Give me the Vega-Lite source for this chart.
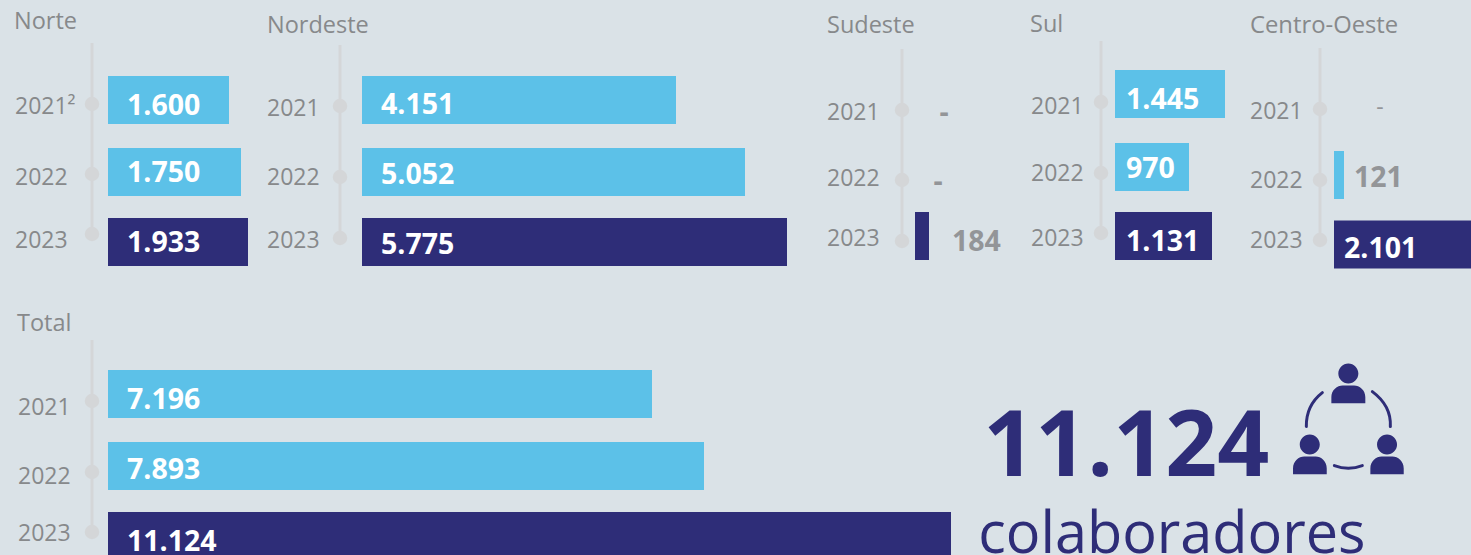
{"$schema":"https://vega.github.io/schema/vega-lite/v6.json","padding":0,"background":"#dae2e7","spacing":0,"config":{"view":{"stroke":null},"concat":{"spacing":0},"text":{"font":"Open Sans"}},
"datasets":{"rows":[
{"region":"Norte","year":2021,"value":1600,"label":"1.600","yearLabel":"2021²"},{"region":"Norte","year":2022,"value":1750,"label":"1.750","yearLabel":"2022"},{"region":"Norte","year":2023,"value":1933,"label":"1.933","yearLabel":"2023"},
{"region":"Nordeste","year":2021,"value":4151,"label":"4.151","yearLabel":"2021"},{"region":"Nordeste","year":2022,"value":5052,"label":"5.052","yearLabel":"2022"},{"region":"Nordeste","year":2023,"value":5775,"label":"5.775","yearLabel":"2023"},
{"region":"Sudeste","year":2021,"value":null,"label":"-","yearLabel":"2021"},{"region":"Sudeste","year":2022,"value":null,"label":"-","yearLabel":"2022"},{"region":"Sudeste","year":2023,"value":184,"label":"184","yearLabel":"2023"},
{"region":"Sul","year":2021,"value":1445,"label":"1.445","yearLabel":"2021"},{"region":"Sul","year":2022,"value":970,"label":"970","yearLabel":"2022"},{"region":"Sul","year":2023,"value":1131,"label":"1.131","yearLabel":"2023"},
{"region":"Centro-Oeste","year":2021,"value":null,"label":"-","yearLabel":"2021"},{"region":"Centro-Oeste","year":2022,"value":121,"label":"121","yearLabel":"2022"},{"region":"Centro-Oeste","year":2023,"value":2101,"label":"2.101","yearLabel":"2023"},
{"region":"Total","year":2021,"value":7196,"label":"7.196","yearLabel":"2021"},{"region":"Total","year":2022,"value":7893,"label":"7.893","yearLabel":"2022"},{"region":"Total","year":2023,"value":11124,"label":"11.124","yearLabel":"2023"}
],"callout":[{"total":"11.124","unit":"colaboradores"}]},
"vconcat":[{"hconcat":[
{"width":258,"height":290,"data":{"name":"rows"},"transform":[{"filter":"datum.region=='Norte'"}],"resolve":{"scale":{"x":"independent","y":"independent"}},"layer":[
{"transform":[{"filter":"datum.year==2021"}],"mark":{"type":"rule","color":"#d4d6d8","strokeWidth":3},"encoding":{"x":{"datum":-1,"axis":null,"scale":{"domain":[-2,-1,0,1600,1750,1933],"range":[15,92,108,229,241,248],"zero":false,"nice":false}},"y":{"datum":2020,"axis":null,"scale":{"domain":[2020,2021,2022,2023],"range":[43,104,174,234],"zero":false,"nice":false}},"y2":{"datum":2023}}},
{"mark":{"type":"point","filled":true,"size":210,"color":"#d4d6d8","opacity":1},"encoding":{"x":{"datum":-1,"axis":null,"scale":{"domain":[-2,-1,0,1600,1750,1933],"range":[15,92,108,229,241,248],"zero":false,"nice":false}},"y":{"field":"year","type":"quantitative","axis":null,"scale":{"domain":[2020,2021,2022,2023],"range":[43,104,174,234],"zero":false,"nice":false}}}},
{"mark":{"type":"text","align":"left","baseline":"middle","fontSize":23,"color":"#87898b","dy":2},"encoding":{"x":{"datum":-2,"axis":null,"scale":{"domain":[-2,-1,0,1600,1750,1933],"range":[15,92,108,229,241,248],"zero":false,"nice":false}},"y":{"field":"year","type":"quantitative","axis":null,"scale":{"domain":[2020,2021,2022,2023],"range":[21,105,176,239],"zero":false,"nice":false}},"text":{"field":"yearLabel"}}},
{"transform":[{"filter":"datum.year==2021"}],"mark":{"type":"text","align":"left","baseline":"middle","fontSize":23.5,"color":"#87898b","dx":-1,"dy":1},"encoding":{"x":{"datum":-2,"axis":null,"scale":{"domain":[-2,-1,0,1600,1750,1933],"range":[15,92,108,229,241,248],"zero":false,"nice":false}},"y":{"datum":2020,"axis":null,"scale":{"domain":[2020,2021,2022,2023],"range":[21,105,176,239],"zero":false,"nice":false}},"text":{"field":"region"}}},
{"mark":{"type":"bar","orient":"horizontal","size":48},"encoding":{"x":{"field":"value","type":"quantitative","stack":null,"axis":null,"scale":{"domain":[-2,-1,0,1600,1750,1933],"range":[15,92,108,229,241,248],"zero":false,"nice":false}},"x2":{"datum":0},"y":{"field":"year","type":"quantitative","axis":null,"scale":{"domain":[2021,2022,2023],"range":[100,172,242],"zero":false,"nice":false,"padding":0}},"color":{"condition":{"test":"datum.year==2023","value":"#2e2d78"},"value":"#5cc1e8"}}},
{"mark":{"type":"text","align":"left","baseline":"middle","fontSize":28.5,"fontWeight":"bold","color":"#ffffff","dx":19,"dy":1},"encoding":{"x":{"datum":0,"axis":null,"scale":{"domain":[-2,-1,0,1600,1750,1933],"range":[15,92,108,229,241,248],"zero":false,"nice":false}},"y":{"field":"year","type":"quantitative","axis":null,"scale":{"domain":[2021,2022,2023],"range":[105,172,242],"zero":false,"nice":false}},"text":{"field":"label"}}}
]},
{"width":557,"height":290,"data":{"name":"rows"},"transform":[{"filter":"datum.region=='Nordeste'"}],"resolve":{"scale":{"x":"independent","y":"independent"}},"layer":[
{"transform":[{"filter":"datum.year==2021"}],"mark":{"type":"rule","color":"#d4d6d8","strokeWidth":3},"encoding":{"x":{"datum":-1,"axis":null,"scale":{"domain":[-2,-1,0,4151,5052,5775],"range":[9,82,104,418,487,529],"zero":false,"nice":false}},"y":{"datum":2020,"axis":null,"scale":{"domain":[2020,2021,2022,2023],"range":[45,106,177,238],"zero":false,"nice":false}},"y2":{"datum":2023}}},
{"mark":{"type":"point","filled":true,"size":210,"color":"#d4d6d8","opacity":1},"encoding":{"x":{"datum":-1,"axis":null,"scale":{"domain":[-2,-1,0,4151,5052,5775],"range":[9,82,104,418,487,529],"zero":false,"nice":false}},"y":{"field":"year","type":"quantitative","axis":null,"scale":{"domain":[2020,2021,2022,2023],"range":[45,106,177,238],"zero":false,"nice":false}}}},
{"mark":{"type":"text","align":"left","baseline":"middle","fontSize":23,"color":"#87898b","dy":2},"encoding":{"x":{"datum":-2,"axis":null,"scale":{"domain":[-2,-1,0,4151,5052,5775],"range":[9,82,104,418,487,529],"zero":false,"nice":false}},"y":{"field":"year","type":"quantitative","axis":null,"scale":{"domain":[2020,2021,2022,2023],"range":[24,107,176,239],"zero":false,"nice":false}},"text":{"field":"yearLabel"}}},
{"transform":[{"filter":"datum.year==2021"}],"mark":{"type":"text","align":"left","baseline":"middle","fontSize":23.5,"color":"#87898b","dy":2},"encoding":{"x":{"datum":-2,"axis":null,"scale":{"domain":[-2,-1,0,4151,5052,5775],"range":[9,82,104,418,487,529],"zero":false,"nice":false}},"y":{"datum":2020,"axis":null,"scale":{"domain":[2020,2021,2022,2023],"range":[24,107,176,239],"zero":false,"nice":false}},"text":{"field":"region"}}},
{"mark":{"type":"bar","orient":"horizontal","size":48},"encoding":{"x":{"field":"value","type":"quantitative","stack":null,"axis":null,"scale":{"domain":[-2,-1,0,4151,5052,5775],"range":[9,82,104,418,487,529],"zero":false,"nice":false}},"x2":{"datum":0},"y":{"field":"year","type":"quantitative","axis":null,"scale":{"domain":[2021,2022,2023],"range":[100,172,242],"zero":false,"nice":false,"padding":0}},"color":{"condition":{"test":"datum.year==2023","value":"#2e2d78"},"value":"#5cc1e8"}}},
{"mark":{"type":"text","align":"left","baseline":"middle","fontSize":28.5,"fontWeight":"bold","color":"#ffffff","dx":19,"dy":1},"encoding":{"x":{"datum":0,"axis":null,"scale":{"domain":[-2,-1,0,4151,5052,5775],"range":[9,82,104,418,487,529],"zero":false,"nice":false}},"y":{"field":"year","type":"quantitative","axis":null,"scale":{"domain":[2021,2022,2023],"range":[104,174,244],"zero":false,"nice":false}},"text":{"field":"label"}}}
]},
{"width":207,"height":290,"data":{"name":"rows"},"transform":[{"filter":"datum.region=='Sudeste'"}],"resolve":{"scale":{"x":"independent","y":"independent"}},"layer":[
{"transform":[{"filter":"datum.year==2021"}],"mark":{"type":"rule","color":"#d4d6d8","strokeWidth":3},"encoding":{"x":{"datum":-1,"axis":null,"scale":{"domain":[-2,-1,0,184],"range":[12,87,100,114],"zero":false,"nice":false}},"y":{"datum":2020,"axis":null,"scale":{"domain":[2020,2021,2022,2023],"range":[49,110,180,241],"zero":false,"nice":false}},"y2":{"datum":2023}}},
{"mark":{"type":"point","filled":true,"size":210,"color":"#d4d6d8","opacity":1},"encoding":{"x":{"datum":-1,"axis":null,"scale":{"domain":[-2,-1,0,184],"range":[12,87,100,114],"zero":false,"nice":false}},"y":{"field":"year","type":"quantitative","axis":null,"scale":{"domain":[2020,2021,2022,2023],"range":[49,110,180,241],"zero":false,"nice":false}}}},
{"mark":{"type":"text","align":"left","baseline":"middle","fontSize":23,"color":"#87898b","dy":2},"encoding":{"x":{"datum":-2,"axis":null,"scale":{"domain":[-2,-1,0,184],"range":[12,87,100,114],"zero":false,"nice":false}},"y":{"field":"year","type":"quantitative","axis":null,"scale":{"domain":[2020,2021,2022,2023],"range":[24,111,177,237],"zero":false,"nice":false}},"text":{"field":"yearLabel"}}},
{"transform":[{"filter":"datum.year==2021"}],"mark":{"type":"text","align":"left","baseline":"middle","fontSize":23.5,"color":"#87898b","dy":2},"encoding":{"x":{"datum":-2,"axis":null,"scale":{"domain":[-2,-1,0,184],"range":[12,87,100,114],"zero":false,"nice":false}},"y":{"datum":2020,"axis":null,"scale":{"domain":[2020,2021,2022,2023],"range":[24,111,177,237],"zero":false,"nice":false}},"text":{"field":"region"}}},
{"mark":{"type":"bar","orient":"horizontal","size":48},"encoding":{"x":{"field":"value","type":"quantitative","stack":null,"axis":null,"scale":{"domain":[-2,-1,0,184],"range":[12,87,100,114],"zero":false,"nice":false}},"x2":{"datum":0},"y":{"field":"year","type":"quantitative","axis":null,"scale":{"domain":[2021,2022,2023],"range":[94,164,236],"zero":false,"nice":false,"padding":0}},"color":{"condition":{"test":"datum.year==2023","value":"#2e2d78"},"value":"#5cc1e8"}}},
{"transform":[{"filter":"datum.year==2021"}],"mark":{"type":"text","align":"center","baseline":"middle","fontSize":28.5,"fontWeight":"bold","color":"#939598","dx":29,"dy":1},"encoding":{"x":{"datum":0,"axis":null,"scale":{"domain":[-2,-1,0,184],"range":[12,87,100,114],"zero":false,"nice":false}},"y":{"field":"year","type":"quantitative","axis":null,"scale":{"domain":[2021,2022,2023],"range":[112,181,241],"zero":false,"nice":false}},"text":{"field":"label"}}},
{"transform":[{"filter":"datum.year==2022"}],"mark":{"type":"text","align":"center","baseline":"middle","fontSize":28.5,"fontWeight":"bold","color":"#939598","dx":23,"dy":1},"encoding":{"x":{"datum":0,"axis":null,"scale":{"domain":[-2,-1,0,184],"range":[12,87,100,114],"zero":false,"nice":false}},"y":{"field":"year","type":"quantitative","axis":null,"scale":{"domain":[2021,2022,2023],"range":[112,181,241],"zero":false,"nice":false}},"text":{"field":"label"}}},
{"transform":[{"filter":"datum.year==2023"}],"mark":{"type":"text","align":"left","baseline":"middle","fontSize":28.5,"fontWeight":"bold","color":"#939598","dx":37,"dy":1},"encoding":{"x":{"datum":0,"axis":null,"scale":{"domain":[-2,-1,0,184],"range":[12,87,100,114],"zero":false,"nice":false}},"y":{"field":"year","type":"quantitative","axis":null,"scale":{"domain":[2021,2022,2023],"range":[112,181,241],"zero":false,"nice":false}},"text":{"field":"label"}}}
]},
{"width":220,"height":290,"data":{"name":"rows"},"transform":[{"filter":"datum.region=='Sul'"}],"resolve":{"scale":{"x":"independent","y":"independent"}},"layer":[
{"transform":[{"filter":"datum.year==2021"}],"mark":{"type":"rule","color":"#d4d6d8","strokeWidth":3},"encoding":{"x":{"datum":-1,"axis":null,"scale":{"domain":[-2,-1,0,970,1131,1445],"range":[9,79,93,167,190,203],"zero":false,"nice":false}},"y":{"datum":2020,"axis":null,"scale":{"domain":[2020,2021,2022,2023],"range":[41,102,173,233],"zero":false,"nice":false}},"y2":{"datum":2023}}},
{"mark":{"type":"point","filled":true,"size":210,"color":"#d4d6d8","opacity":1},"encoding":{"x":{"datum":-1,"axis":null,"scale":{"domain":[-2,-1,0,970,1131,1445],"range":[9,79,93,167,190,203],"zero":false,"nice":false}},"y":{"field":"year","type":"quantitative","axis":null,"scale":{"domain":[2020,2021,2022,2023],"range":[41,102,173,233],"zero":false,"nice":false}}}},
{"mark":{"type":"text","align":"left","baseline":"middle","fontSize":23,"color":"#87898b","dy":2},"encoding":{"x":{"datum":-2,"axis":null,"scale":{"domain":[-2,-1,0,970,1131,1445],"range":[9,79,93,167,190,203],"zero":false,"nice":false}},"y":{"field":"year","type":"quantitative","axis":null,"scale":{"domain":[2020,2021,2022,2023],"range":[23,105,172,237],"zero":false,"nice":false}},"text":{"field":"yearLabel"}}},
{"transform":[{"filter":"datum.year==2021"}],"mark":{"type":"text","align":"left","baseline":"middle","fontSize":23.5,"color":"#87898b","dx":-1,"dy":2},"encoding":{"x":{"datum":-2,"axis":null,"scale":{"domain":[-2,-1,0,970,1131,1445],"range":[9,79,93,167,190,203],"zero":false,"nice":false}},"y":{"datum":2020,"axis":null,"scale":{"domain":[2020,2021,2022,2023],"range":[23,105,172,237],"zero":false,"nice":false}},"text":{"field":"region"}}},
{"mark":{"type":"bar","orient":"horizontal","size":48},"encoding":{"x":{"field":"value","type":"quantitative","stack":null,"axis":null,"scale":{"domain":[-2,-1,0,970,1131,1445],"range":[9,79,93,167,190,203],"zero":false,"nice":false}},"x2":{"datum":0},"y":{"field":"year","type":"quantitative","axis":null,"scale":{"domain":[2021,2022,2023],"range":[94,167,236],"zero":false,"nice":false,"padding":0}},"color":{"condition":{"test":"datum.year==2023","value":"#2e2d78"},"value":"#5cc1e8"}}},
{"mark":{"type":"text","align":"left","baseline":"middle","fontSize":28.5,"fontWeight":"bold","color":"#ffffff","dx":11,"dy":1},"encoding":{"x":{"datum":0,"axis":null,"scale":{"domain":[-2,-1,0,970,1131,1445],"range":[9,79,93,167,190,203],"zero":false,"nice":false}},"y":{"field":"year","type":"quantitative","axis":null,"scale":{"domain":[2021,2022,2023],"range":[99,168,241],"zero":false,"nice":false}},"text":{"field":"label"}}}
]},
{"width":229,"height":290,"data":{"name":"rows"},"transform":[{"filter":"datum.region=='Centro-Oeste'"}],"resolve":{"scale":{"x":"independent","y":"independent"}},"layer":[
{"transform":[{"filter":"datum.year==2021"}],"mark":{"type":"rule","color":"#d4d6d8","strokeWidth":3},"encoding":{"x":{"datum":-1,"axis":null,"scale":{"domain":[-2,-1,0,121,2101],"range":[8,78,92,102,229],"zero":false,"nice":false}},"y":{"datum":2020,"axis":null,"scale":{"domain":[2020,2021,2022,2023],"range":[48,109,180,240],"zero":false,"nice":false}},"y2":{"datum":2023}}},
{"mark":{"type":"point","filled":true,"size":210,"color":"#d4d6d8","opacity":1},"encoding":{"x":{"datum":-1,"axis":null,"scale":{"domain":[-2,-1,0,121,2101],"range":[8,78,92,102,229],"zero":false,"nice":false}},"y":{"field":"year","type":"quantitative","axis":null,"scale":{"domain":[2020,2021,2022,2023],"range":[48,109,180,240],"zero":false,"nice":false}}}},
{"mark":{"type":"text","align":"left","baseline":"middle","fontSize":23,"color":"#87898b","dy":2},"encoding":{"x":{"datum":-2,"axis":null,"scale":{"domain":[-2,-1,0,121,2101],"range":[8,78,92,102,229],"zero":false,"nice":false}},"y":{"field":"year","type":"quantitative","axis":null,"scale":{"domain":[2020,2021,2022,2023],"range":[24,110,179,239],"zero":false,"nice":false}},"text":{"field":"yearLabel"}}},
{"transform":[{"filter":"datum.year==2021"}],"mark":{"type":"text","align":"left","baseline":"middle","fontSize":23.8,"color":"#87898b","dy":2},"encoding":{"x":{"datum":-2,"axis":null,"scale":{"domain":[-2,-1,0,121,2101],"range":[8,78,92,102,229],"zero":false,"nice":false}},"y":{"datum":2020,"axis":null,"scale":{"domain":[2020,2021,2022,2023],"range":[24,110,179,239],"zero":false,"nice":false}},"text":{"field":"region"}}},
{"mark":{"type":"bar","orient":"horizontal","size":48},"encoding":{"x":{"field":"value","type":"quantitative","stack":null,"axis":null,"scale":{"domain":[-2,-1,0,121,2101],"range":[8,78,92,102,229],"zero":false,"nice":false}},"x2":{"datum":0},"y":{"field":"year","type":"quantitative","axis":null,"scale":{"domain":[2021,2022,2023],"range":[105,175,244.5],"zero":false,"nice":false,"padding":0}},"color":{"condition":{"test":"datum.year==2023","value":"#2e2d78"},"value":"#5cc1e8"}}},
{"transform":[{"filter":"datum.year==2021"}],"mark":{"type":"text","align":"center","baseline":"middle","fontSize":23,"color":"#939598","dx":46},"encoding":{"x":{"datum":0,"axis":null,"scale":{"domain":[-2,-1,0,121,2101],"range":[8,78,92,102,229],"zero":false,"nice":false}},"y":{"field":"year","type":"quantitative","axis":null,"scale":{"domain":[2021,2022,2023],"range":[108,177,248],"zero":false,"nice":false}},"text":{"field":"label"}}},
{"transform":[{"filter":"datum.year==2022"}],"mark":{"type":"text","align":"left","baseline":"middle","fontSize":28.5,"fontWeight":"bold","color":"#939598","dx":20,"dy":1},"encoding":{"x":{"datum":0,"axis":null,"scale":{"domain":[-2,-1,0,121,2101],"range":[8,78,92,102,229],"zero":false,"nice":false}},"y":{"field":"year","type":"quantitative","axis":null,"scale":{"domain":[2021,2022,2023],"range":[108,177,248],"zero":false,"nice":false}},"text":{"field":"label"}}},
{"transform":[{"filter":"datum.year==2023"}],"mark":{"type":"text","align":"left","baseline":"middle","fontSize":28.5,"fontWeight":"bold","color":"#ffffff","dx":10,"dy":1},"encoding":{"x":{"datum":0,"axis":null,"scale":{"domain":[-2,-1,0,121,2101],"range":[8,78,92,102,229],"zero":false,"nice":false}},"y":{"field":"year","type":"quantitative","axis":null,"scale":{"domain":[2021,2022,2023],"range":[108,177,248],"zero":false,"nice":false}},"text":{"field":"label"}}}
]}
]},
{"hconcat":[
{"width":965,"height":265,"data":{"name":"rows"},"transform":[{"filter":"datum.region=='Total'"}],"resolve":{"scale":{"x":"independent","y":"independent"}},"layer":[
{"transform":[{"filter":"datum.year==2021"}],"mark":{"type":"rule","color":"#d4d6d8","strokeWidth":3},"encoding":{"x":{"datum":-1,"axis":null,"scale":{"domain":[-2,-1,0,7196,7893,11124],"range":[18,92,108,652,704,951],"zero":false,"nice":false}},"y":{"datum":2020,"axis":null,"scale":{"domain":[2020,2021,2022,2023],"range":[50,111,182,242],"zero":false,"nice":false}},"y2":{"datum":2023}}},
{"mark":{"type":"point","filled":true,"size":210,"color":"#d4d6d8","opacity":1},"encoding":{"x":{"datum":-1,"axis":null,"scale":{"domain":[-2,-1,0,7196,7893,11124],"range":[18,92,108,652,704,951],"zero":false,"nice":false}},"y":{"field":"year","type":"quantitative","axis":null,"scale":{"domain":[2020,2021,2022,2023],"range":[50,111,182,242],"zero":false,"nice":false}}}},
{"mark":{"type":"text","align":"left","baseline":"middle","fontSize":23,"color":"#87898b","dy":2},"encoding":{"x":{"datum":-2,"axis":null,"scale":{"domain":[-2,-1,0,7196,7893,11124],"range":[18,92,108,652,704,951],"zero":false,"nice":false}},"y":{"field":"year","type":"quantitative","axis":null,"scale":{"domain":[2020,2021,2022,2023],"range":[32,116,185,242],"zero":false,"nice":false}},"text":{"field":"yearLabel"}}},
{"transform":[{"filter":"datum.year==2021"}],"mark":{"type":"text","align":"left","baseline":"middle","fontSize":23.5,"color":"#87898b","dx":-1,"dy":2},"encoding":{"x":{"datum":-2,"axis":null,"scale":{"domain":[-2,-1,0,7196,7893,11124],"range":[18,92,108,652,704,951],"zero":false,"nice":false}},"y":{"datum":2020,"axis":null,"scale":{"domain":[2020,2021,2022,2023],"range":[32,116,185,242],"zero":false,"nice":false}},"text":{"field":"region"}}},
{"mark":{"type":"bar","orient":"horizontal","size":48,"clip":true},"encoding":{"x":{"field":"value","type":"quantitative","stack":null,"axis":null,"scale":{"domain":[-2,-1,0,7196,7893,11124],"range":[18,92,108,652,704,951],"zero":false,"nice":false}},"x2":{"datum":0},"y":{"field":"year","type":"quantitative","axis":null,"scale":{"domain":[2021,2022,2023],"range":[104,176,246],"zero":false,"nice":false,"padding":0}},"color":{"condition":{"test":"datum.year==2023","value":"#2e2d78"},"value":"#5cc1e8"}}},
{"mark":{"type":"text","align":"left","baseline":"middle","fontSize":28.5,"fontWeight":"bold","color":"#ffffff","dx":19,"dy":1,"clip":true},"encoding":{"x":{"datum":0,"axis":null,"scale":{"domain":[-2,-1,0,7196,7893,11124],"range":[18,92,108,652,704,951],"zero":false,"nice":false}},"y":{"field":"year","type":"quantitative","axis":null,"scale":{"domain":[2021,2022,2023],"range":[109,179,251],"zero":false,"nice":false}},"text":{"field":"label"}}}
]},
{"width":506,"height":265,"data":{"name":"callout"},"layer":[
{"mark":{"type":"text","align":"left","baseline":"alphabetic","fontSize":91,"fontWeight":"bold","color":"#2e2d78"},"encoding":{"x":{"datum":3.6,"axis":null,"scale":{"domain":[0,100],"zero":false,"nice":false}},"y":{"datum":70.2,"axis":null,"scale":{"domain":[100,0],"zero":false,"nice":false}},"text":{"field":"total"}}},
{"mark":{"type":"text","align":"left","baseline":"alphabetic","fontSize":57.6,"color":"#2e2d78","clip":true},"encoding":{"x":{"datum":2.6,"axis":null,"scale":{"domain":[0,100],"zero":false,"nice":false}},"y":{"datum":99.2,"axis":null,"scale":{"domain":[100,0],"zero":false,"nice":false}},"text":{"field":"unit"}}},
{"mark":{"type":"point","filled":true,"opacity":1,"size":14400,"color":"#2e2d78","shape":"M-.162 -.855C-.162 -.947 -.087 -1.022 .005 -1.022C.097 -1.022 .172 -.947 .172 -.855C.172 -.763 .097 -.688 .005 -.688C-.087 -.688 -.162 -.763 -.162 -.855ZM-.805 .328C-.805 .236 -.73 .161 -.638 .161C-.546 .161 -.471 .236 -.471 .328C-.471 .42 -.546 .495 -.638 .495C-.73 .495 -.805 .42 -.805 .328ZM.483 .328C.483 .236 .558 .161 .65 .161C.742 .161 .817 .236 .817 .328C.817 .42 .742 .495 .65 .495C.558 .495 .483 .42 .483 .328ZM-.278 -.362L-.278 -.46C-.278 -.58 -.18 -.655 -.09 -.655L.1 -.655C.19 -.655 .288 -.58 .288 -.46L.288 -.362ZM-.917 .822L-.917 .725C-.917 .605 -.82 .528 -.73 .528L-.54 .528C-.45 .528 -.355 .605 -.355 .725L-.355 .822ZM.372 .822L.372 .725C.372 .605 .47 .528 .56 .528L.74 .528C.83 .528 .928 .605 .928 .725L.928 .822Z"},"encoding":{"x":{"datum":75.7,"axis":null,"scale":{"domain":[0,100],"zero":false,"nice":false}},"y":{"datum":50.9,"axis":null,"scale":{"domain":[100,0],"zero":false,"nice":false}}}},
{"mark":{"type":"point","filled":false,"opacity":1,"size":14400,"stroke":"#2e2d78","strokeWidth":3,"strokeCap":"round","shape":"M-.428 -.538C-.58 -.42 -.70 -.25 -.695 .028M.405 -.555C.56 -.44 .72 -.25 .705 .028M-.228 .678Q.005 .766 .238 .678"},"encoding":{"x":{"datum":75.7,"axis":null,"scale":{"domain":[0,100],"zero":false,"nice":false}},"y":{"datum":50.9,"axis":null,"scale":{"domain":[100,0],"zero":false,"nice":false}}}}
]}
]}
]}
